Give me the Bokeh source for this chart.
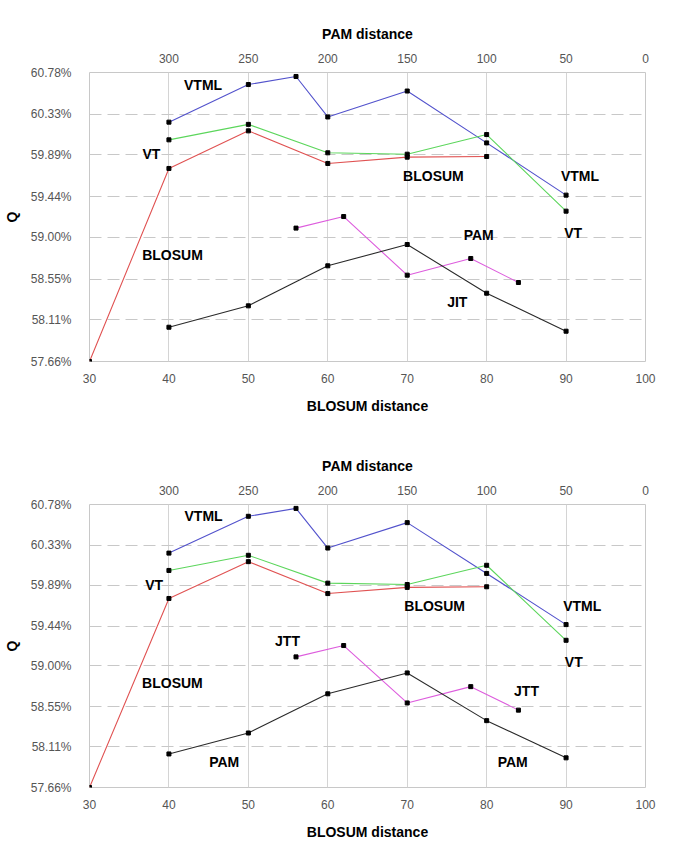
from bokeh.plotting import figure
from bokeh.models import Range1d, LinearAxis, FixedTicker, PrintfTickFormatter, Label
from bokeh.layouts import column
from bokeh.embed import file_html
from bokeh.resources import INLINE

# ---- data ----
y_ticks = [57.66, 58.11, 58.55, 59.00, 59.44, 59.89, 60.33, 60.78]
blosum_ticks = [30, 40, 50, 60, 70, 80, 90, 100]
pam_ticks = [300, 250, 200, 150, 100, 50, 0]

vtml_pam = [300, 250, 220, 200, 150, 100, 50]
vtml_q = [60.244, 60.65, 60.737, 60.30, 60.58, 60.02, 59.456]

vt_pam = [300, 250, 200, 150, 100, 50]
vt_q = [60.053, 60.22, 59.913, 59.898, 60.11, 59.283]

blosum_x = [30, 40, 50, 60, 70, 80]
blosum_q = [57.66, 59.744, 60.15, 59.798, 59.866, 59.873]

jtt_pam = [220, 190, 150, 110, 80]
jtt_q = [59.10, 59.225, 58.592, 58.772, 58.513]

pam_pam = [300, 250, 200, 150, 100, 50]
pam_q = [58.03, 58.261, 58.693, 58.923, 58.397, 57.987]

top_labels = [("VTML", 44.3, 60.65), ("VT", 37.8, 59.895), ("BLOSUM", 73.3, 59.668),
              ("VTML", 91.75, 59.668), ("VT", 90.9, 59.05), ("BLOSUM", 40.45, 58.812),
              ("PAM", 79.0, 59.028), ("JIT", 76.3, 58.304)]
bottom_labels = [("VTML", 44.36, 60.65), ("VT", 38.13, 59.898), ("BLOSUM", 73.45, 59.666),
                 ("VTML", 92.04, 59.666), ("JTT", 54.93, 59.27), ("VT", 90.97, 59.041),
                 ("BLOSUM", 40.44, 58.81), ("JTT", 85.02, 58.722), ("PAM", 46.96, 57.939),
                 ("PAM", 83.28, 57.939)]

C_VTML = "#5252cc"
C_VT = "#5cd65c"
C_BLOSUM = "#e05252"
C_JTT = "#dd5cdd"
C_PAM = "#2a2a2a"

FONT = "Liberation Sans"


def make_panel(width, height, bl, br, bt, bb, labels):
    p = figure(width=width, height=height, output_backend="svg", toolbar_location=None,
               x_range=Range1d(30, 100), y_range=Range1d(57.66, 60.78),
               min_border_left=bl, min_border_right=br, min_border_top=bt, min_border_bottom=bb,
               background_fill_color="white", border_fill_color="white")
    p.extra_x_ranges = {"pam": Range1d(start=350, end=0)}
    p.outline_line_color = "#c8c8c8"
    p.outline_line_width = 1

    bottom = p.below[0]
    left = p.left[0]
    bottom.ticker = FixedTicker(ticks=blosum_ticks)
    left.ticker = FixedTicker(ticks=y_ticks)
    left.formatter = PrintfTickFormatter(format="%.2f%%")
    top = LinearAxis(x_range_name="pam", ticker=FixedTicker(ticks=pam_ticks))
    p.add_layout(top, "above")
    bottom.axis_label = "BLOSUM distance"
    top.axis_label = "PAM distance"
    left.axis_label = "Q"
    for ax in [bottom, top, left]:
        ax.axis_line_color = None
        ax.major_tick_line_color = None
        ax.minor_tick_line_color = None
        ax.major_label_text_font = FONT
        ax.major_label_text_font_size = "12px"
        ax.major_label_text_color = "#555555"
        ax.axis_label_text_font = FONT
        ax.axis_label_text_font_style = "bold"
        ax.axis_label_text_font_size = "14px"
        ax.axis_label_text_color = "black"
    bottom.major_label_standoff = 6
    bottom.axis_label_standoff = 12
    top.major_label_standoff = 4
    top.axis_label_standoff = 9
    left.major_label_standoff = 12
    left.axis_label_standoff = 8

    # grid
    p.xgrid.grid_line_color = "#d4d4d4"
    p.xgrid.grid_line_width = 1
    p.ygrid.grid_line_color = "#c8c8c8"
    p.ygrid.grid_line_dash = "12 6"
    p.ygrid.grid_line_width = 1.2

    # series
    p.line(vtml_pam, vtml_q, x_range_name="pam", color=C_VTML, line_width=1.1)
    p.line(vt_pam, vt_q, x_range_name="pam", color=C_VT, line_width=1.1)
    p.line(blosum_x, blosum_q, color=C_BLOSUM, line_width=1.1)
    p.line(jtt_pam, jtt_q, x_range_name="pam", color=C_JTT, line_width=1.1)
    p.line(pam_pam, pam_q, x_range_name="pam", color=C_PAM, line_width=1.1)

    for xs, ys in [(vtml_pam, vtml_q), (vt_pam, vt_q), (jtt_pam, jtt_q), (pam_pam, pam_q)]:
        p.scatter(xs, ys, x_range_name="pam", marker="square", size=4, color="black")
    p.scatter(blosum_x, blosum_q, marker="square", size=4, color="black")

    for txt, lx, ly in labels:
        p.add_layout(Label(x=lx, y=ly, text=txt, text_align="center", text_baseline="middle",
                           text_font=FONT, text_font_style="bold", text_font_size="14px",
                           text_color="black"))
    return p


p1 = make_panel(677, 432, 89, 32, 72, 71, top_labels)
p2 = make_panel(677, 410, 85, 29, 72, 55, bottom_labels)

layout = column(p1, p2, spacing=0)
open("out.html", "w").write(file_html(layout, INLINE))
